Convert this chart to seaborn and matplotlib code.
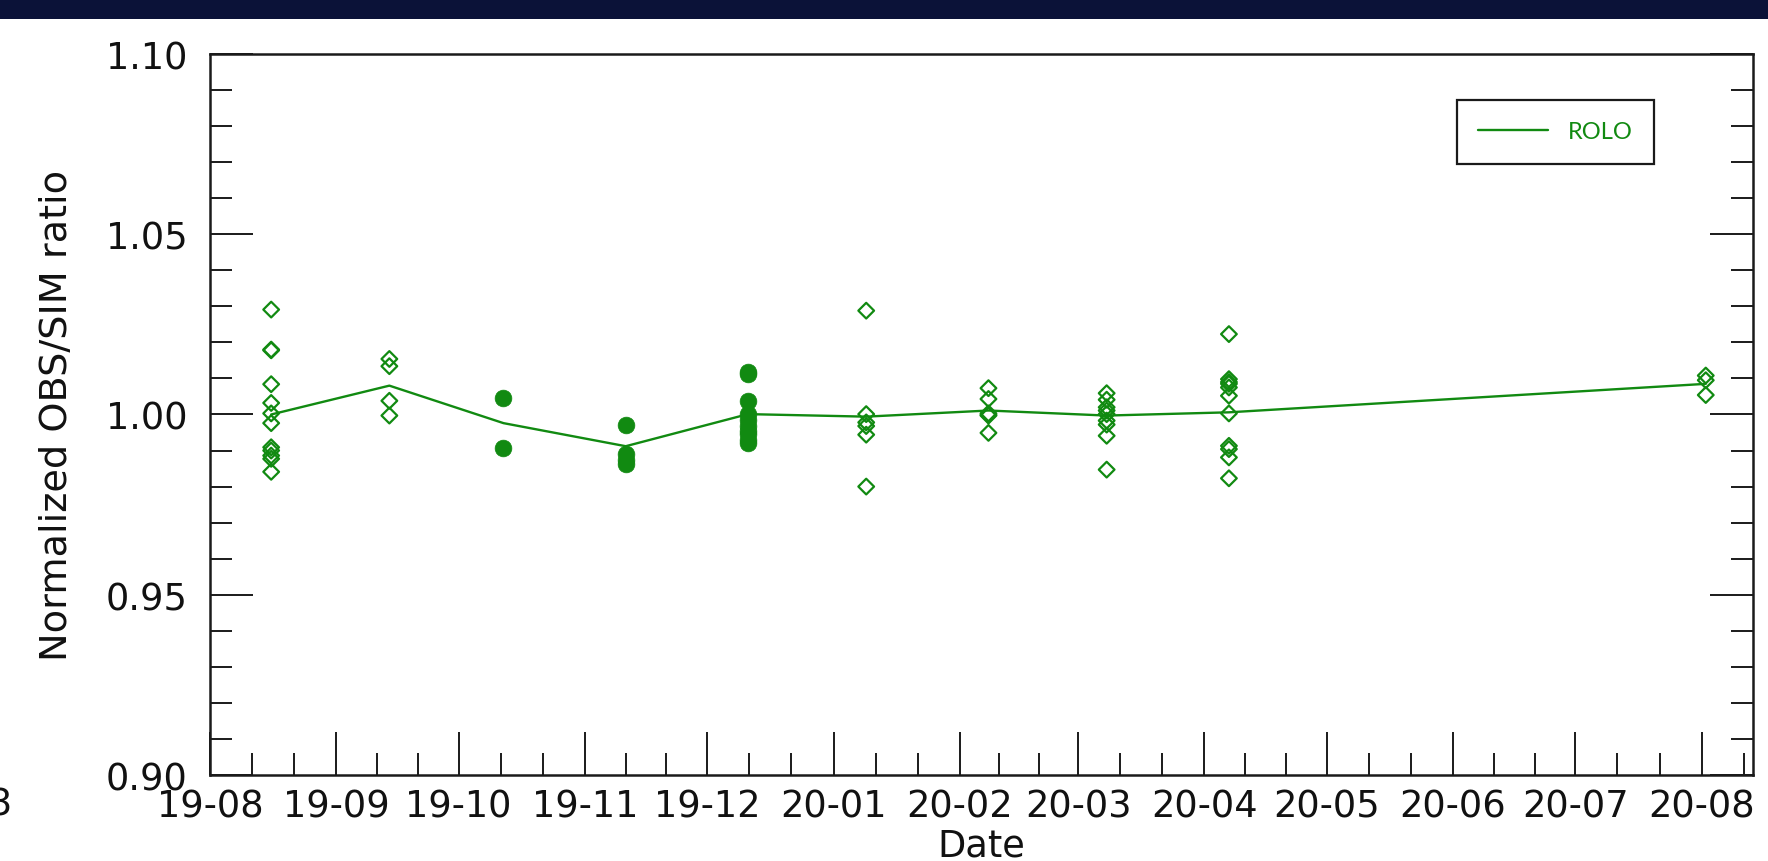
import matplotlib
matplotlib.use('Agg')
import matplotlib.pyplot as plt
import matplotlib.dates as mdates
from matplotlib.ticker import FixedLocator, MultipleLocator
from matplotlib.patches import Rectangle
import seaborn as sns
import pandas as pd

# fechas de observacion (luna llena aprox.)
fechas = ['2019-08-16', '2019-09-14', '2019-10-12', '2019-11-11', '2019-12-11',
          '2020-01-09', '2020-02-08', '2020-03-08', '2020-04-07', '2020-08-02']

# linea ROLO (media por fecha)
rolo = [1.0000, 1.0080, 0.9976, 0.9912, 1.0001, 0.9994, 1.0011, 0.9997, 1.0006, 1.0085]

# ratios individuales por fecha
r_0816 = [1.0291, 1.0180, 1.0178, 1.0084, 1.0032, 1.0003, 0.9976, 0.9909, 0.9900, 0.9886, 0.9877, 0.9841]
r_0914 = [1.0154, 1.0134, 1.0038, 0.9997]
r_1012 = [1.0046, 0.9906]
r_1111 = [0.9972, 0.9890, 0.9875, 0.9862]
r_1211 = [1.0118, 1.0111, 1.0038, 1.0000, 0.9985, 0.9968, 0.9955, 0.9945, 0.9930, 0.9920]
r_0109 = [1.0288, 1.0001, 0.9978, 0.9968, 0.9944, 0.9800]
r_0208 = [1.0073, 1.0043, 1.0003, 0.9999, 0.9997, 0.9949]
r_0308 = [1.0059, 1.0041, 1.0020, 1.0011, 1.0001, 0.9983, 0.9972, 0.9941, 0.9847]
r_0407 = [1.0223, 1.0098, 1.0090, 1.0085, 1.0075, 1.0052, 1.0003, 0.9913, 0.9904, 0.9881, 0.9823]
r_0802 = [1.0108, 1.0095, 1.0054]

grupos = [r_0816, r_0914, r_1012, r_1111, r_1211, r_0109, r_0208, r_0308, r_0407, r_0802]
rellenos = [False, False, True, True, True, False, False, False, False, False]

filas = []
for f, g, rel in zip(fechas, grupos, rellenos):
    for v in g:
        filas.append({'fecha': pd.Timestamp(f), 'ratio': v, 'relleno': rel})
puntos = pd.DataFrame(filas)
linea = pd.DataFrame({'fecha': pd.to_datetime(fechas), 'ratio': rolo})

verde = '#118a11'

sns.set_theme(style='white')
plt.rcParams['font.family'] = ['DejaVu Sans']

fig = plt.figure(figsize=(17.68, 8.62), dpi=100)
fig.patch.set_facecolor('white')
ax = fig.add_axes([0.1188, 0.0998, 0.9915 - 0.1188, 0.9362 - 0.0998])

sns.lineplot(data=linea, x='fecha', y='ratio', color=verde, linewidth=1.7,
             label='ROLO', ax=ax)
abiertos = puntos[~puntos['relleno']]
llenos = puntos[puntos['relleno']]
sns.scatterplot(data=abiertos, x='fecha', y='ratio', marker='D', s=64,
                facecolor='none', edgecolor=verde, linewidth=1.6, ax=ax, legend=False)
sns.scatterplot(data=llenos, x='fecha', y='ratio', marker='o', s=145,
                color=verde, edgecolor=verde, linewidth=0.5, ax=ax, legend=False)

ax.set_ylim(0.90, 1.10)
ax.set_xlim(pd.Timestamp('2019-08-01'), pd.Timestamp('2020-08-13 14:00'))

ax.xaxis.set_major_locator(mdates.MonthLocator(bymonthday=1))
ax.xaxis.set_major_formatter(mdates.DateFormatter('%y-%m'))
meses = pd.date_range('2019-08-01', '2020-09-01', freq='MS')
menores = []
for a, b in zip(meses[:-1], meses[1:]):
    paso = (b - a) / 3
    menores += [a + paso, a + 2 * paso]
ax.xaxis.set_minor_locator(FixedLocator(mdates.date2num(menores)))

ax.yaxis.set_major_locator(MultipleLocator(0.05))
ax.yaxis.set_minor_locator(MultipleLocator(0.01))
ax.yaxis.set_major_formatter(matplotlib.ticker.FormatStrFormatter('%.2f'))

ax.tick_params(axis='both', which='both', direction='in', top=False, right=True,
               left=True, bottom=True, color='#1a1a1a', width=1.4)
ax.tick_params(axis='both', which='major', length=31, labelsize=26.5, labelcolor='#111111')
ax.tick_params(axis='both', which='minor', length=16)
ax.tick_params(axis='x', which='major', pad=9)
ax.tick_params(axis='y', which='major', pad=16)

for s in ax.spines.values():
    s.set_visible(True)
    s.set_color('#1a1a1a')
    s.set_linewidth(1.8)

ax.set_xlabel('Date', fontsize=26.5, color='#111111')
ax.set_ylabel('Normalized OBS/SIM ratio', fontsize=27.5, color='#111111')
ax.xaxis.set_label_coords(0.5, -0.072)
ax.yaxis.set_label_coords(-0.099, 0.5)
ax.yaxis.label.set_verticalalignment('center')

leg = ax.legend(loc='upper left', bbox_to_anchor=(0.808, 0.936), borderaxespad=0,
                handlelength=2.97, handletextpad=0.85, borderpad=0.9,
                frameon=True, fancybox=False, shadow=False,
                prop={'family': 'Lato', 'size': 17}, labelcolor=verde)
leg.get_frame().set_edgecolor('#1a1a1a')
leg.get_frame().set_linewidth(1.6)
leg.get_frame().set_alpha(1)

# franja oscura superior
fig.patches.append(Rectangle((0, 1 - 20 / 862), 1, 20 / 862, transform=fig.transFigure,
                             facecolor='#0b1238', edgecolor='none', zorder=0))
fig.text(0.0, 1 - 805 / 862, '3', fontsize=26.5, ha='center', va='center', color='#111111')

fig.savefig('out.png', dpi=100)
